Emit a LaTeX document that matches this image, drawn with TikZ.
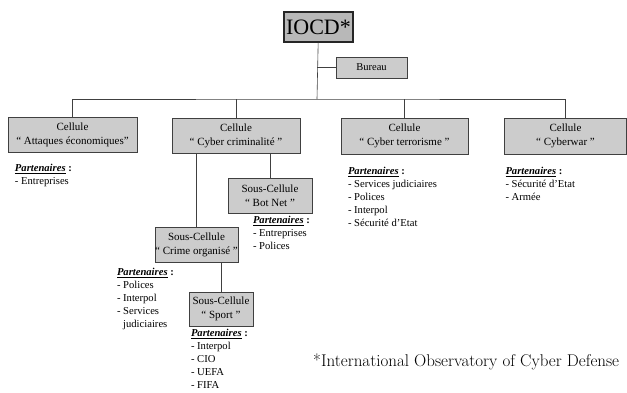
\documentclass[tikz,border=0pt]{standalone}
\usepackage{fontspec}
\newfontfamily\chartfont{Liberation Serif}
\usetikzlibrary{positioning}
\tikzset{
  cellbox/.style={rectangle, draw=black!75, fill=black!20, thin,
    align=center, inner sep=0pt,
    font=\chartfont\fontsize{11}{14}\selectfont},
  topbox/.style={rectangle, draw=black!85, fill=black!28, line width=1.3pt,
    inner sep=0pt, minimum width=69pt, minimum height=30pt,
    font=\chartfont\fontsize{22}{24}\selectfont},
  partners/.style={align=left, inner sep=0pt,
    font=\chartfont\fontsize{10.6}{13}\selectfont},
  link/.style={draw=black!75, line width=0.6pt},
}
\newcommand{\partitle}{\textbf{\textit{\underline{Partenaires}} :}}

\begin{document}
\begin{tikzpicture}[x=1pt, y=-1pt]
  \useasboundingbox (0,0) rectangle (627,392);

  % top of the chart
  \node[topbox] (iocd) at (318.5,27) {IOCD*};
  \node[cellbox, minimum width=71pt, minimum height=21pt,
    font=\chartfont\fontsize{10.5}{12}\selectfont] (bureau) at (371.5,67.5) {Bureau};
  \coordinate (bus) at (317,99);

  % cellules
  \node[cellbox, minimum width=129pt, minimum height=35pt] (attaques)
    at (72.5,134.5) {Cellule\\“ Attaques économiques”};
  \node[cellbox, minimum width=128pt, minimum height=35pt] (crimin)
    at (236,135.5) {Cellule\\“ Cyber criminalité ”};
  \node[cellbox, minimum width=127pt, minimum height=36pt] (terror)
    at (404.5,136) {Cellule\\“ Cyber terrorisme ”};
  \node[cellbox, minimum width=122pt, minimum height=36pt] (cyberwar)
    at (565.5,136) {Cellule\\“ Cyberwar ”};

  % sous-cellules
  \node[cellbox, minimum width=84pt, minimum height=35pt] (botnet)
    at (270,195.5) {Sous-Cellule\\“ Bot Net ”};
  \node[cellbox, minimum width=83pt, minimum height=35pt] (crime)
    at (196.5,244.5) {Sous-Cellule\\“ Crime organisé ”};
  \node[cellbox, minimum width=64pt, minimum height=34pt] (sport)
    at (221,309) {Sous-Cellule\\“ Sport ”};

  % partenaires
  \node[partners, below right=12pt and 7pt of attaques.south west] (p-attaques)
    {\partitle\\- Entreprises};
  \node[partners, below right=13pt and 7pt of terror.south west] (p-terror)
    {\partitle\\- Services judiciaires\\- Polices\\- Interpol\\- Sécurité d’Etat};
  \node[partners, below right=13pt and 1pt of cyberwar.south west] (p-cyberwar)
    {\partitle\\- Sécurité d’Etat\\- Armée};
  \node[partners, below right=3pt and 25pt of botnet.south west] (p-botnet)
    {\partitle\\- Entreprises\\- Polices};
  \node[partners, below right=6pt and -38pt of crime.south west] (p-crime)
    {\partitle\\- Polices\\- Interpol\\- Services\\\phantom{- }judiciaires};
  \node[partners, below right=3pt and 2pt of sport.south west] (p-sport)
    {\partitle\\- Interpol\\- CIO\\- UEFA\\- FIFA};

  % connectors
  \draw[link] (iocd) -- (bus);
  \draw[link] (bureau.west) -- (bureau.west -| bus);
  \draw[link] (attaques.north) |- (bus) -| (cyberwar.north);
  \draw[link] (crimin.north) -- (crimin.north |- bus);
  \draw[link] (terror.north) -- (terror.north |- bus);
  \draw[link] (crime.north) -- (crime.north |- crimin.south);
  \draw[link] (botnet.north) -- (botnet.north |- crimin.south);
  \draw[link] (sport.north) -- (sport.north |- crime.south);

  \node[anchor=west, inner sep=0pt, font=\fontsize{17}{19}\selectfont] (note)
    at (313,362) {*International Observatory of Cyber Defense};
\end{tikzpicture}
\end{document}
